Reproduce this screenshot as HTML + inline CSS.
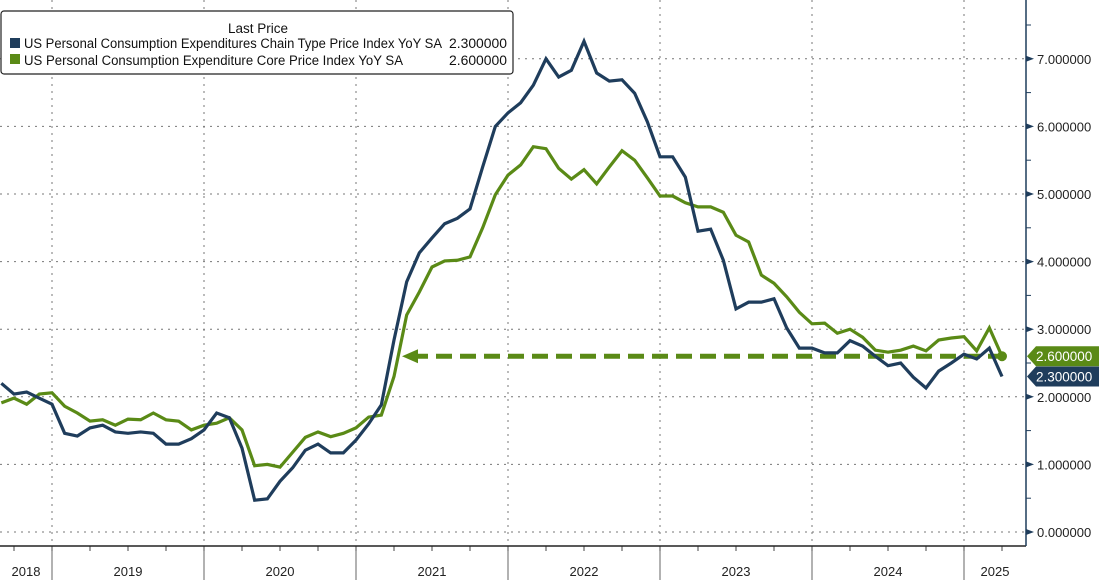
<!DOCTYPE html>
<html><head><meta charset="utf-8"><style>
html,body{margin:0;padding:0;background:#fff;}
svg{display:block;font-family:"Liberation Sans",sans-serif;}
</style></head><body>
<svg id="chart" width="1099" height="580" xmlns="http://www.w3.org/2000/svg">
<g id="grid"></g>
<g id="axes"></g>
<g id="series"></g>
<g id="legend">
  <rect x="1" y="11" width="512" height="63" rx="3" fill="#fff" stroke="#222" stroke-width="1.2"/>
  <text x="258" y="33" font-size="13.5" text-anchor="middle" fill="#111">Last Price</text>
  <rect x="10" y="38" width="10" height="10" fill="#1f3d5c"/>
  <text x="24" y="48" font-size="13.5" fill="#111" textLength="418" lengthAdjust="spacingAndGlyphs">US Personal Consumption Expenditures Chain Type Price Index YoY SA</text>
  <text x="449" y="48" font-size="13.5" fill="#111" textLength="58" lengthAdjust="spacingAndGlyphs">2.300000</text>
  <rect x="10" y="54" width="10" height="10" fill="#5a8a16"/>
  <text x="24" y="65" font-size="13.5" fill="#111" textLength="379" lengthAdjust="spacingAndGlyphs">US Personal Consumption Expenditure Core Price Index YoY SA</text>
  <text x="449" y="65" font-size="13.5" fill="#111" textLength="58" lengthAdjust="spacingAndGlyphs">2.600000</text>
</g>
</svg>
<script>
const startIndex = -4; // months relative to Jan 2019
const headline = [2.20,2.04,2.07,1.98,1.89,1.46,1.42,1.54,1.58,1.48,1.46,1.48,1.46,1.30,1.30,1.38,1.51,1.76,1.69,1.24,0.47,0.49,0.75,0.95,1.21,1.30,1.17,1.17,1.36,1.60,1.88,2.84,3.70,4.13,4.35,4.56,4.64,4.78,5.40,6.00,6.20,6.35,6.61,7.00,6.73,6.83,7.26,6.79,6.67,6.69,6.49,6.07,5.55,5.55,5.25,4.45,4.48,4.02,3.30,3.40,3.40,3.45,3.02,2.72,2.72,2.65,2.65,2.83,2.75,2.60,2.46,2.50,2.29,2.13,2.38,2.50,2.63,2.56,2.72,2.30];
const core = [1.91,1.98,1.89,2.04,2.06,1.86,1.76,1.64,1.66,1.58,1.67,1.66,1.76,1.66,1.64,1.51,1.58,1.61,1.69,1.51,0.98,1.00,0.96,1.18,1.40,1.48,1.41,1.46,1.54,1.70,1.73,2.30,3.21,3.55,3.92,4.01,4.02,4.07,4.50,4.99,5.28,5.43,5.70,5.67,5.38,5.22,5.36,5.15,5.40,5.64,5.50,5.24,4.97,4.97,4.87,4.81,4.81,4.73,4.39,4.29,3.80,3.68,3.48,3.25,3.08,3.09,2.94,3.00,2.88,2.69,2.66,2.69,2.75,2.68,2.84,2.87,2.89,2.68,3.02,2.60];
const yTicks = [0,1,2,3,4,5,6,7];
const years = ["2018","2019","2020","2021","2022","2023","2024","2025"];
const lastHeadline = 2.3, lastCore = 2.6;

const NS="http://www.w3.org/2000/svg";
const X0=52, MW=152/12, PB=546, AX=1026;
const xm = k => X0 + k*MW;
const xi = i => xm(startIndex+i);
const y = v => 532 - v*67.6;
function mk(tag, attrs, parent){const e=document.createElementNS(NS,tag);for(const k in attrs)e.setAttribute(k,attrs[k]);parent.appendChild(e);return e;}
const grid=document.getElementById('grid'), axes=document.getElementById('axes'), series=document.getElementById('series');

yTicks.forEach(t=>{
  const l=mk('line',{x1:0,x2:AX,y1:y(t),y2:y(t),stroke:'#777','stroke-width':1,'stroke-dasharray':'2,5'},grid);
  
  
  const tk=mk('path',{d:`M${AX},${y(t)-3} L${AX+8},${y(t)} L${AX},${y(t)+3}Z`,fill:'#1f3d5c'},axes);
  
  
  const tx=mk('text',{x:AX+11,y:y(t)+5,'font-size':13,fill:'#222'},axes);
  tx.textContent=t.toFixed(6);
  
  
  const mn=mk('line',{x1:AX,x2:AX+5,y1:y(t+0.5),y2:y(t+0.5),stroke:'#1f3d5c'},axes);
  
  
});
for(let yr=0; yr<7; yr++){
  const x=xm(yr*12);
  const g=mk('line',{x1:x,x2:x,y1:0,y2:PB,stroke:'#777','stroke-width':1,'stroke-dasharray':'2,5'},grid);
  
  
  const s=mk('line',{x1:x,x2:x,y1:PB,y2:580,stroke:'#666'},axes);
  
  
}
for(let q=-1; q<26; q++){
  const x=xm(q*3); if(x<0||x>AX) continue;
  const s=mk('line',{x1:x,x2:x,y1:PB,y2:PB+5,stroke:'#444'},axes);
  
  
}
years.forEach((yr,i)=>{
  let a=xm((i-1)*12), b=xm(i*12); a=Math.max(a,0); b=Math.min(b,AX);
  const t=mk('text',{x:(a+b)/2,y:576,'font-size':13,'text-anchor':'middle',fill:'#222'},axes);
  t.textContent=yr;
  
  
});
const xa=mk('line',{x1:0,x2:AX,y1:PB,y2:PB,stroke:'#222','stroke-width':1.5},axes);


const ya=mk('line',{x1:AX,x2:AX,y1:0,y2:PB,stroke:'#1f3d5c','stroke-width':1.5},axes);



const lastX = xi(core.length-1);
const dash=mk('line',{x1:412,x2:lastX,y1:y(lastCore),y2:y(lastCore),stroke:'#5a8a16','stroke-width':5,'stroke-dasharray':'16,8'},series);


const arr=mk('path',{d:`M402,${y(lastCore)} L418,${y(lastCore)-7} L418,${y(lastCore)+7}Z`,fill:'#5a8a16'},series);



function line(data,color,name){
  const p=mk('polyline',{points:data.map((v,i)=>xi(i)+','+y(v)).join(' '),fill:'none',stroke:color,'stroke-width':3.2,'stroke-linejoin':'miter'},series);
  
  
}
line(core,'#5a8a16','core-pce-line');
line(headline,'#1f3d5c','headline-pce-line');
const dot=mk('circle',{cx:lastX,cy:y(lastCore),r:5,fill:'#5a8a16'},series);



function tag(v,color,name){
  const yy=y(v);
  const p=mk('path',{d:`M${AX+1},${yy} L${AX+10},${yy-10} L1099,${yy-10} L1099,${yy+10} L${AX+10},${yy+10}Z`,fill:color},axes);
  
  
  const t=mk('text',{x:AX+10,y:yy+5,'font-size':13.5,fill:'#fff'},axes);
  t.textContent=v.toFixed(6);
  
  
}
tag(lastCore,'#5a8a16','core-last-value-tag');
tag(lastHeadline,'#1f3d5c','headline-last-value-tag');
</script>
</body></html>
